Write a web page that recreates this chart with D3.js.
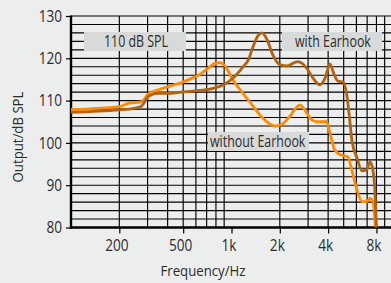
<!DOCTYPE html>
<html><head><meta charset="utf-8">
<script src="https://cdn.jsdelivr.net/npm/d3@7"></script>
<style>
html,body{margin:0;padding:0;background:#eceeed;}
svg{display:block;}
text{font-family:"Open Sans","Noto Sans",sans-serif;fill:#2b2b2b;}
</style></head><body>
<svg id="c" width="391" height="283"></svg>
<script>
// ---- data ----
const withFreq = [100,200,230,273,306,348,420,484,636,768,886,1020,1180,1280,1340,1460,1550,1660,1810,2000,2220,2300,2590,2950,3220,3560,3830,4110,4300,4600,4960,5220,5470,5630,6050,6500,6940,7300,7610,7800,8000];
const withVals = [107.2,107.8,108.0,108.6,111.1,111.7,111.7,112.0,112.4,112.9,113.7,115.3,118.0,119.8,122.0,125.3,126.0,124.5,120.8,118.5,118.2,118.4,119.2,117.6,115.3,113.7,115.3,118.7,116.8,114.6,114.4,111.5,105.0,100.5,96.5,93.4,93.6,95.5,93.5,89.6,80.0];
const withoutFreq = [100,200,230,273,306,348,420,484,560,636,734,790,847,910,1020,1180,1370,1570,1870,2090,2300,2670,2950,3100,3400,3900,4110,4400,4870,5300,5630,6050,6500,6940,7300,7610,7880];
const withoutVals = [107.9,108.6,109.4,109.7,111.7,112.5,113.5,114.2,115.2,116.2,118.0,118.8,119.0,118.2,114.9,111.7,108.6,105.8,104.0,104.5,106.2,109.0,107.0,105.8,105.0,105.0,102.3,98.3,97.1,96.7,93.5,88.9,86.1,86.1,86.9,86.1,80.2];
const xTickVals = [200,500,1000,2000,4000,8000];
const xTickLabels = ["200","500","1k","2k","4k","8k"];
const yTickVals = [80,90,100,110,120,130];
const seriesNames = ["with Earhook","without Earhook"];
const noteLabel = "110 dB SPL";
const xTitle = "Frequency/Hz";
const yTitle = "Output/dB SPL";

// ---- layout ----
const svg = d3.select("#c");
const L = 71, R = 392, T = 16, B = 227.5;
const x = d3.scaleLog().domain([100,10000]).range([L,R]);
const y = d3.scaleLinear().domain([80,130]).range([B,T]);

const condense = (sel, f) => sel.each(function(){
  const w = this.getComputedTextLength();
  d3.select(this).attr("textLength", w*f).attr("lengthAdjust","spacingAndGlyphs");
});

// grid
const g = svg.append("g");
const hLines = d3.range(80,131,2);
g.selectAll("line.h").data(hLines).join("line")
  .attr("x1",L).attr("x2",R).attr("y1",d=>y(d)).attr("y2",d=>y(d))
  .attr("stroke","#000").attr("stroke-width",1.15);
const vLines = [];
[100,1000].forEach(dec=>{for(let k=2;k<=9;k++)vLines.push(dec*k);});
vLines.push(10000);
g.selectAll("line.v").data(vLines).join("line")
  .attr("x1",d=>x(d)).attr("x2",d=>x(d)).attr("y1",T).attr("y2",B)
  .attr("stroke","#000").attr("stroke-width",1.15);

// label boxes
function box(x0,x1,y0,y1,label,tx){
  svg.append("rect").attr("x",x0).attr("y",y0).attr("width",x1-x0).attr("height",y1-y0).attr("fill","#d8d9d9");
  svg.append("text").attr("x",tx).attr("y",y1-4.5).attr("font-size",15.5).text(label).call(condense,0.8);
}
box(84,186,32,51,noteLabel,104);
box(282,382,32,51,seriesNames[0],295);
box(208,309,132,151,seriesNames[1],210);

// axes
const yAxis = d3.axisLeft(y).tickValues(yTickVals).tickSize(5).tickPadding(4);
const ya = svg.append("g").attr("transform",`translate(${L},0)`).call(yAxis);
ya.select(".domain").remove();
ya.selectAll("line").attr("stroke","#000").attr("stroke-width",1.2);
ya.selectAll("text").attr("font-size",16).attr("fill","#2b2b2b").style("font-family",'"Open Sans",sans-serif').call(condense,0.85);

const xAxis = d3.axisBottom(x).tickValues(xTickVals).tickFormat((d,i)=>xTickLabels[i]).tickSize(6).tickPadding(6);
const xa = svg.append("g").attr("transform",`translate(0,${B})`).call(xAxis);
xa.select(".domain").remove();
xa.selectAll("line").attr("stroke","#000").attr("stroke-width",1.2);
xa.selectAll("text").attr("font-size",16).attr("dx",-3).attr("fill","#2b2b2b").style("font-family",'"Open Sans",sans-serif').call(condense,0.85);

svg.append("line").attr("x1",L).attr("x2",L).attr("y1",T-0.5).attr("y2",B+1.2).attr("stroke","#000").attr("stroke-width",2.4);
svg.append("line").attr("x1",L-1).attr("x2",R).attr("y1",B).attr("y2",B).attr("stroke","#000").attr("stroke-width",2.4);

// curves
const line = d3.line().x(d=>x(d[0])).y(d=>y(d[1])).curve(d3.curveMonotoneX);
svg.append("path").datum(withoutFreq.map((f,i)=>[f,withoutVals[i]]))
  .attr("d",line).attr("fill","none").attr("stroke","#ff8a00").attr("stroke-width",2.8).attr("stroke-linejoin","round");
svg.append("path").datum(withFreq.map((f,i)=>[f,withVals[i]]))
  .attr("d",line).attr("fill","none").attr("stroke","#b3620e").attr("stroke-width",2.8).attr("stroke-linejoin","round");

// titles
svg.append("text").attr("x",203).attr("y",276).attr("text-anchor","middle").attr("font-size",15).text(xTitle).call(condense,0.88);
svg.append("text").attr("transform","translate(22.5,137) rotate(-90)").attr("text-anchor","middle").attr("font-size",15).text(yTitle).call(condense,0.88);
</script>
</body></html>
